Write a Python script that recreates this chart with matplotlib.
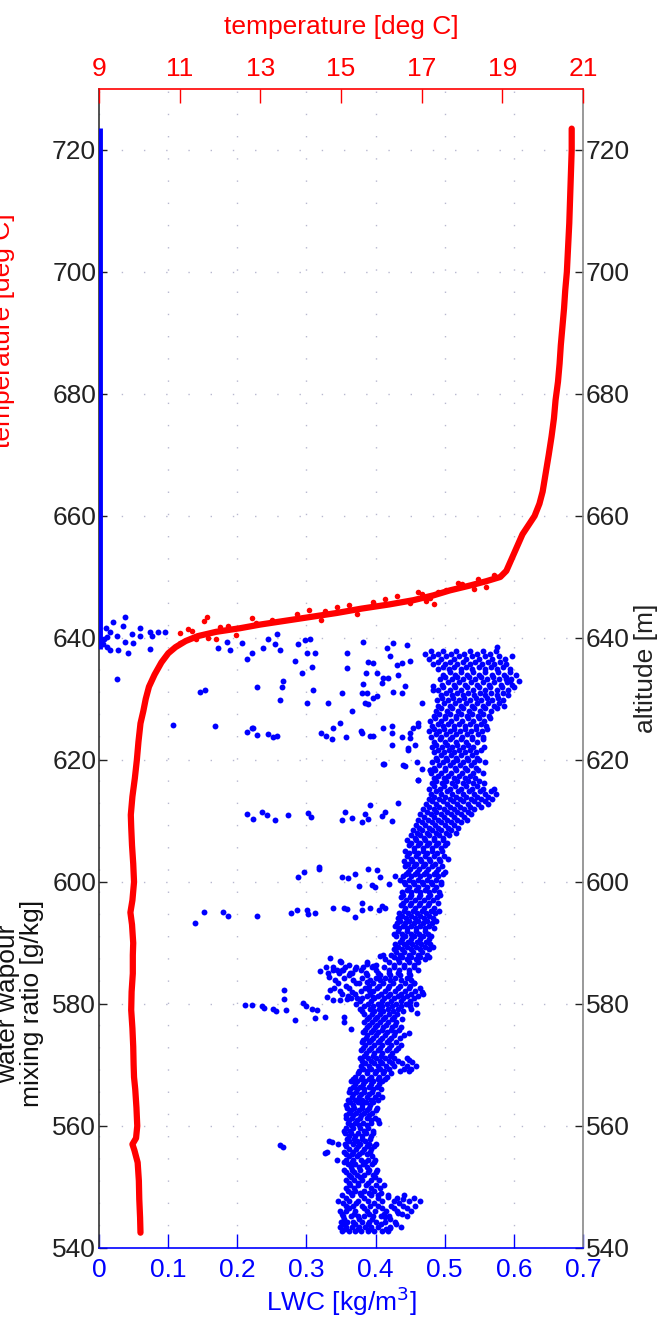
import numpy as np
import matplotlib
matplotlib.use("Agg")
import matplotlib.pyplot as plt

plt.rcParams['font.family'] = ['Liberation Sans', 'DejaVu Sans']

# temperature profile (deg C) against altitude (m)
temp_alt = [542.5, 545, 548, 551, 554, 556, 557, 558, 560, 563, 566, 568, 570, 573, 576, 579,
            582, 585, 588, 590, 593, 595, 597, 600, 603, 606, 609, 611, 614, 617, 620, 623,
            626, 628, 630, 632, 634, 636, 637.5, 638.5, 639.5, 640.3, 641, 641.6, 642.2, 642.8,
            643.4, 644.1, 644.8, 645.5, 646.2, 647.0, 647.8, 648.6, 649.3, 650.0, 651, 652.5,
            654, 655.5, 657, 658.5, 660, 662, 664, 666, 668, 670, 673, 676, 679, 682, 685,
            688, 691, 694, 697, 700, 704, 708, 712, 716, 720, 723.5]
temp = [10.03, 10.02, 10.00, 9.99, 9.96, 9.88, 9.83, 9.92, 9.95, 9.93, 9.90, 9.87, 9.86, 9.85,
        9.83, 9.80, 9.81, 9.84, 9.84, 9.85, 9.82, 9.78, 9.83, 9.87, 9.85, 9.82, 9.80, 9.79,
        9.83, 9.89, 9.94, 9.98, 10.03, 10.10, 10.16, 10.24, 10.38, 10.55, 10.72, 10.90, 11.15,
        11.45, 11.9, 12.5, 13.0, 13.6, 14.2, 14.9, 15.5, 16.2, 16.8, 17.3, 17.7, 18.2, 18.6,
        18.95, 19.1, 19.2, 19.3, 19.4, 19.5, 19.65, 19.8, 19.92, 20.0, 20.05, 20.1, 20.15,
        20.22, 20.28, 20.32, 20.38, 20.42, 20.45, 20.49, 20.53, 20.56, 20.6, 20.63, 20.66,
        20.68, 20.7, 20.72, 20.72]

# noisy temperature samples through the inversion
temp_spread_alt = [643.4, 642.8, 641.5, 639.8, 640.5, 643.2, 642.9, 643.9, 644.5, 645.4, 645.9,
                   646.9, 647.5, 645.8, 646.0, 645.6, 647.9, 649.0, 648.0, 648.4, 644.0, 643.0,
                   641.2, 640.0, 642.0, 646.6, 647.2, 649.6, 650.4, 641.8, 642.4, 644.6, 645.1,
                   646.4, 647.6, 648.9, 640.8, 639.2, 639.9]
temp_spread = [11.68, 11.6, 11.2, 11.9, 12.4, 12.8, 13.3, 13.9, 14.6, 15.2, 15.8, 16.4, 16.9,
               16.7, 17.1, 17.3, 17.6, 17.9, 18.3, 18.6, 15.4, 14.5, 11.3, 11.7, 12.2, 17.2,
               17.0, 18.4, 18.8, 12.0, 12.9, 14.2, 14.9, 16.1, 17.4, 18.0, 11.0, 11.0, 11.4]

# LWC above cloud top (kg/m3)
clear_alt = [638.2, 723.6]
clear_lwc = [0.002, 0.002]

# in-cloud LWC samples, one row of values per altitude
core_alt = [542.7, 543.5, 544.3, 545.2, 546.0, 546.9, 547.7, 548.6, 549.4, 550.3, 551.1, 552.0,
            552.8, 553.7, 554.5, 555.4, 556.2, 557.1, 557.9, 558.8, 559.6, 560.5, 561.3, 562.2,
            563.0, 563.9, 564.7, 565.6, 566.4, 567.3, 568.1, 569.0, 569.8, 570.7, 571.5, 572.4,
            573.2, 574.1, 574.9, 575.8, 576.6, 577.5, 578.3, 579.2, 580.0, 580.9, 581.7, 582.6,
            583.4, 584.3, 585.1, 586.0, 586.8, 587.7, 588.5, 589.4, 590.2, 591.1, 591.9, 592.8,
            593.6, 594.5, 595.3, 596.2, 597.0, 597.9, 598.7, 599.6, 600.4, 601.3, 602.1, 603.0,
            603.8, 604.7, 605.5, 606.4, 607.2, 608.1, 608.9, 609.8, 610.6, 611.5, 612.3, 613.2,
            614.0, 614.9, 615.7, 616.6, 617.4, 618.3, 619.1, 620.0, 620.8, 621.7, 622.5, 623.4,
            624.2, 625.1, 625.9, 626.8, 627.6, 628.5, 629.3, 630.2, 631.0, 631.9, 632.7, 633.6,
            634.4, 635.3, 636.1, 637.0, 637.8]
core_lwc = [
    [0.352, 0.361, 0.370, 0.379, 0.389, 0.398, 0.410, 0.418],
    [0.348, 0.357, 0.366, 0.376, 0.385, 0.394, 0.404, 0.421, 0.437],
    [0.350, 0.359, 0.368, 0.381, 0.391, 0.400, 0.413, 0.428],
    [0.353, 0.364, 0.374, 0.383, 0.396, 0.408, 0.419, 0.446],
    [0.349, 0.358, 0.371, 0.387, 0.399, 0.415, 0.431, 0.452],
    [0.357, 0.368, 0.380, 0.392, 0.404, 0.422, 0.440, 0.457],
    [0.346, 0.362, 0.375, 0.389, 0.410, 0.427, 0.448, 0.465],
    [0.352, 0.366, 0.379, 0.394, 0.418, 0.441],
    [0.360, 0.371, 0.383, 0.398],
    [0.363, 0.374, 0.386, 0.401, 0.412],
    [0.357, 0.369, 0.380, 0.393, 0.405],
    [0.362, 0.373, 0.384, 0.397],
    [0.355, 0.366, 0.377, 0.391, 0.402],
    [0.360, 0.371, 0.382, 0.395],
    [0.358, 0.368, 0.379, 0.389, 0.399],
    [0.357, 0.366, 0.376, 0.387],
    [0.361, 0.372, 0.383, 0.393],
    [0.356, 0.367, 0.378, 0.390, 0.401],
    [0.359, 0.369, 0.380, 0.392],
    [0.356, 0.365, 0.374, 0.386, 0.397],
    [0.358, 0.368, 0.378, 0.389],
    [0.360, 0.371, 0.382, 0.394, 0.405],
    [0.357, 0.366, 0.377, 0.388, 0.399],
    [0.362, 0.372, 0.383, 0.395],
    [0.359, 0.369, 0.380, 0.391, 0.402],
    [0.363, 0.374, 0.386, 0.397],
    [0.366, 0.376, 0.387, 0.399, 0.410],
    [0.362, 0.372, 0.384, 0.395],
    [0.367, 0.378, 0.390, 0.402],
    [0.364, 0.373, 0.385, 0.397, 0.409],
    [0.370, 0.381, 0.393, 0.405, 0.417],
    [0.376, 0.388, 0.400, 0.412, 0.436, 0.448],
    [0.379, 0.391, 0.403, 0.415, 0.427, 0.445, 0.458],
    [0.381, 0.393, 0.406, 0.419, 0.433],
    [0.383, 0.396, 0.408, 0.421],
    [0.379, 0.391, 0.403, 0.416, 0.430],
    [0.385, 0.398, 0.410, 0.423, 0.437],
    [0.382, 0.394, 0.407, 0.420],
    [0.388, 0.400, 0.413, 0.426, 0.441],
    [0.385, 0.397, 0.409, 0.422, 0.434],
    [0.390, 0.402, 0.415, 0.428],
    [0.387, 0.399, 0.411, 0.424, 0.438],
    [0.383, 0.395, 0.407, 0.419, 0.431],
    [0.378, 0.392, 0.405, 0.418, 0.433, 0.452],
    [0.372, 0.389, 0.403, 0.417, 0.430, 0.444, 0.458],
    [0.365, 0.381, 0.398, 0.412, 0.426, 0.440, 0.455],
    [0.352, 0.370, 0.392, 0.408, 0.421, 0.437, 0.451, 0.468],
    [0.340, 0.361, 0.385, 0.402, 0.418, 0.433, 0.449],
    [0.345, 0.372, 0.396, 0.411, 0.425, 0.442, 0.456],
    [0.355, 0.380, 0.400, 0.414, 0.428, 0.445],
    [0.331, 0.347, 0.366, 0.386, 0.404, 0.419, 0.433, 0.448],
    [0.338, 0.372, 0.395, 0.412, 0.427, 0.441, 0.455],
    [0.350, 0.388, 0.420, 0.434, 0.449, 0.462],
    [0.426, 0.438, 0.451, 0.464, 0.477],
    [0.429, 0.441, 0.454, 0.467],
    [0.432, 0.445, 0.458, 0.471, 0.483],
    [0.435, 0.447, 0.460, 0.473],
    [0.430, 0.442, 0.455, 0.468, 0.480],
    [0.433, 0.446, 0.459, 0.472],
    [0.428, 0.440, 0.452, 0.465, 0.478],
    [0.436, 0.449, 0.462, 0.475, 0.488],
    [0.438, 0.451, 0.464, 0.477],
    [0.441, 0.454, 0.467, 0.480, 0.492],
    [0.437, 0.450, 0.463, 0.476],
    [0.444, 0.457, 0.470, 0.483],
    [0.440, 0.452, 0.465, 0.479, 0.493],
    [0.446, 0.459, 0.472, 0.485],
    [0.442, 0.455, 0.468, 0.481, 0.495],
    [0.448, 0.461, 0.474, 0.488],
    [0.444, 0.457, 0.470, 0.484, 0.498],
    [0.450, 0.463, 0.476, 0.490],
    [0.447, 0.459, 0.472, 0.486],
    [0.452, 0.465, 0.478, 0.492, 0.505],
    [0.449, 0.462, 0.475, 0.489],
    [0.455, 0.468, 0.481, 0.495],
    [0.451, 0.464, 0.477, 0.491, 0.504],
    [0.457, 0.470, 0.484, 0.498],
    [0.460, 0.474, 0.488, 0.502, 0.516],
    [0.463, 0.477, 0.491, 0.505, 0.519],
    [0.467, 0.481, 0.495, 0.509, 0.524],
    [0.470, 0.484, 0.499, 0.513, 0.528],
    [0.474, 0.488, 0.503, 0.518, 0.533],
    [0.478, 0.492, 0.507, 0.522, 0.537, 0.552],
    [0.482, 0.497, 0.512, 0.527, 0.542, 0.558],
    [0.485, 0.500, 0.516, 0.531, 0.547, 0.563],
    [0.488, 0.503, 0.519, 0.535, 0.551, 0.567],
    [0.484, 0.499, 0.515, 0.531, 0.547],
    [0.487, 0.502, 0.518, 0.533, 0.549],
    [0.490, 0.505, 0.520, 0.536],
    [0.486, 0.501, 0.517, 0.532, 0.548],
    [0.492, 0.507, 0.522, 0.538],
    [0.489, 0.503, 0.518, 0.534, 0.550],
    [0.494, 0.509, 0.524, 0.540],
    [0.491, 0.506, 0.521, 0.537, 0.553],
    [0.488, 0.503, 0.518, 0.533],
    [0.493, 0.508, 0.524, 0.540, 0.556],
    [0.487, 0.502, 0.517, 0.532, 0.548],
    [0.484, 0.499, 0.514, 0.530, 0.546, 0.561],
    [0.490, 0.505, 0.521, 0.537, 0.553],
    [0.486, 0.501, 0.517, 0.533, 0.549, 0.565],
    [0.492, 0.508, 0.524, 0.540, 0.556],
    [0.495, 0.511, 0.527, 0.543, 0.559, 0.575],
    [0.499, 0.515, 0.531, 0.547, 0.563, 0.579],
    [0.496, 0.512, 0.528, 0.545, 0.561, 0.577],
    [0.502, 0.518, 0.534, 0.551, 0.567, 0.584],
    [0.498, 0.515, 0.532, 0.549, 0.566, 0.583, 0.600],
    [0.505, 0.521, 0.538, 0.555, 0.572, 0.590],
    [0.501, 0.518, 0.535, 0.553, 0.570, 0.588],
    [0.507, 0.524, 0.541, 0.559, 0.577, 0.595],
    [0.497, 0.514, 0.531, 0.549, 0.567, 0.585],
    [0.490, 0.508, 0.526, 0.544, 0.562, 0.580],
    [0.483, 0.502, 0.521, 0.540, 0.559, 0.578],
    [0.480, 0.498, 0.517, 0.536, 0.555, 0.574],
]

# second pass of the cloud profile, samples between the rows above
core2_alt = [543.1, 543.9, 544.7, 545.6, 546.5, 547.3, 548.2, 549.0, 549.9, 550.7, 551.6, 552.4,
             553.3, 554.1, 555.0, 555.8, 556.7, 557.5, 558.4, 559.2, 560.1, 560.9, 561.8, 562.6,
             563.5, 564.3, 565.2, 566.0, 566.9, 567.7, 568.6, 569.4, 570.3, 571.1, 572.0, 572.8,
             573.7, 574.5, 575.4, 576.2, 577.1, 577.9, 578.8, 579.6, 580.5, 581.3, 582.2, 583.0,
             583.9, 584.7, 585.6, 586.4, 587.3, 588.1, 589.0, 589.8, 590.7, 591.5, 592.4, 593.2,
             594.1, 594.9, 595.8, 596.6, 597.5, 598.3, 599.2, 600.0, 600.9, 601.7, 602.6, 603.4,
             604.3, 605.1, 606.0, 606.8, 607.7, 608.5, 609.4, 610.2, 611.1, 611.9, 612.8, 613.6,
             614.5, 615.3, 616.2, 617.0, 617.9, 618.7, 619.6, 620.4, 621.3, 622.1, 623.0, 623.8,
             624.7, 625.5, 626.4, 627.2, 628.1, 628.9, 629.8, 630.6, 631.5, 632.3, 633.2, 634.0,
             634.9, 635.7, 636.6, 637.4]
core2_lwc = [
    [0.356, 0.374, 0.392, 0.415],
    [0.353, 0.371, 0.389, 0.408, 0.430],
    [0.355, 0.376, 0.395, 0.421],
    [0.351, 0.369, 0.391, 0.412, 0.438],
    [0.362, 0.383, 0.409, 0.426, 0.446],
    [0.353, 0.372, 0.398, 0.434],
    [0.358, 0.384, 0.403, 0.455],
    [0.365, 0.377, 0.391, 0.408],
    [0.358, 0.369, 0.394, 0.406],
    [0.361, 0.375, 0.389],
    [0.364, 0.378, 0.399],
    [0.358, 0.369, 0.389, 0.401],
    [0.364, 0.376, 0.388],
    [0.355, 0.366, 0.385, 0.398],
    [0.362, 0.373, 0.395],
    [0.355, 0.368, 0.380, 0.392],
    [0.358, 0.375, 0.388, 0.398],
    [0.362, 0.373, 0.385],
    [0.361, 0.371, 0.381, 0.393],
    [0.355, 0.363, 0.384, 0.396],
    [0.365, 0.376, 0.388],
    [0.362, 0.373, 0.393, 0.404],
    [0.358, 0.368, 0.379, 0.390],
    [0.364, 0.376, 0.388, 0.400],
    [0.357, 0.368, 0.380, 0.392],
    [0.360, 0.370, 0.381, 0.393, 0.404],
    [0.367, 0.379, 0.390, 0.403],
    [0.363, 0.373, 0.384, 0.396, 0.408],
    [0.370, 0.382, 0.394, 0.405],
    [0.368, 0.379, 0.391, 0.403, 0.414],
    [0.375, 0.387, 0.399, 0.411, 0.423],
    [0.382, 0.394, 0.406, 0.420, 0.441, 0.452],
    [0.385, 0.398, 0.410, 0.424, 0.438],
    [0.377, 0.389, 0.401, 0.414, 0.427],
    [0.386, 0.398, 0.410, 0.424],
    [0.382, 0.394, 0.406, 0.419, 0.432],
    [0.380, 0.391, 0.403, 0.416, 0.429],
    [0.386, 0.397, 0.410, 0.423, 0.436],
    [0.382, 0.393, 0.404, 0.416, 0.428],
    [0.387, 0.399, 0.411, 0.424, 0.437],
    [0.384, 0.395, 0.406, 0.418, 0.430],
    [0.390, 0.402, 0.414, 0.426],
    [0.380, 0.398, 0.411, 0.425, 0.440],
    [0.383, 0.396, 0.410, 0.424, 0.437, 0.450],
    [0.378, 0.394, 0.409, 0.422, 0.437, 0.450],
    [0.360, 0.387, 0.404, 0.418, 0.432, 0.446, 0.461],
    [0.348, 0.379, 0.396, 0.413, 0.428, 0.442, 0.457],
    [0.357, 0.390, 0.405, 0.419, 0.435, 0.450],
    [0.342, 0.368, 0.392, 0.407, 0.421, 0.437, 0.452],
    [0.362, 0.388, 0.407, 0.421, 0.436, 0.450],
    [0.352, 0.379, 0.400, 0.419, 0.434, 0.448, 0.461],
    [0.362, 0.400, 0.426, 0.441, 0.456],
    [0.414, 0.432, 0.445, 0.458, 0.471],
    [0.423, 0.435, 0.448, 0.461, 0.474],
    [0.426, 0.438, 0.451, 0.464, 0.477],
    [0.428, 0.441, 0.453, 0.466, 0.479],
    [0.438, 0.451, 0.464, 0.477],
    [0.426, 0.438, 0.451, 0.463, 0.476],
    [0.434, 0.446, 0.458, 0.471, 0.484],
    [0.431, 0.443, 0.456, 0.469, 0.482],
    [0.432, 0.444, 0.457, 0.470, 0.483],
    [0.434, 0.447, 0.460, 0.473, 0.486],
    [0.443, 0.457, 0.470, 0.484],
    [0.439, 0.452, 0.465, 0.478, 0.490],
    [0.437, 0.450, 0.463, 0.476, 0.489],
    [0.438, 0.452, 0.465, 0.478, 0.492],
    [0.449, 0.462, 0.475, 0.488],
    [0.441, 0.454, 0.467, 0.480, 0.494],
    [0.440, 0.451, 0.464, 0.478, 0.491],
    [0.447, 0.460, 0.473, 0.487, 0.501],
    [0.443, 0.456, 0.469, 0.482, 0.496],
    [0.441, 0.453, 0.466, 0.479, 0.493],
    [0.446, 0.459, 0.471, 0.485, 0.499],
    [0.443, 0.456, 0.469, 0.482, 0.496],
    [0.448, 0.461, 0.474, 0.488, 0.501],
    [0.446, 0.458, 0.471, 0.484, 0.497],
    [0.452, 0.465, 0.478, 0.492, 0.506],
    [0.454, 0.467, 0.481, 0.495, 0.509],
    [0.458, 0.472, 0.486, 0.500, 0.514],
    [0.462, 0.476, 0.490, 0.504, 0.518, 0.532],
    [0.465, 0.480, 0.494, 0.509, 0.523, 0.538],
    [0.469, 0.484, 0.499, 0.514, 0.528, 0.543],
    [0.473, 0.488, 0.503, 0.518, 0.533, 0.548, 0.563],
    [0.477, 0.492, 0.507, 0.522, 0.538, 0.553, 0.568],
    [0.480, 0.495, 0.511, 0.527, 0.543, 0.559, 0.574],
    [0.478, 0.493, 0.508, 0.524, 0.540, 0.556, 0.571],
    [0.481, 0.496, 0.511, 0.526, 0.541, 0.557],
    [0.484, 0.499, 0.514, 0.529, 0.544],
    [0.480, 0.494, 0.509, 0.525, 0.541, 0.556],
    [0.485, 0.500, 0.515, 0.530, 0.545],
    [0.482, 0.497, 0.512, 0.527, 0.543, 0.558],
    [0.487, 0.502, 0.517, 0.532, 0.547],
    [0.484, 0.499, 0.514, 0.529, 0.545],
    [0.481, 0.496, 0.511, 0.526, 0.541, 0.557],
    [0.485, 0.500, 0.516, 0.531, 0.547],
    [0.480, 0.495, 0.510, 0.525, 0.540, 0.555],
    [0.477, 0.492, 0.507, 0.522, 0.538, 0.554],
    [0.482, 0.497, 0.513, 0.529, 0.545, 0.560],
    [0.479, 0.494, 0.509, 0.525, 0.541, 0.557],
    [0.484, 0.500, 0.516, 0.532, 0.548, 0.564],
    [0.487, 0.503, 0.519, 0.535, 0.551, 0.567],
    [0.491, 0.507, 0.523, 0.539, 0.555, 0.571, 0.586],
    [0.489, 0.505, 0.521, 0.537, 0.553, 0.569, 0.585],
    [0.494, 0.510, 0.526, 0.543, 0.559, 0.576, 0.592],
    [0.491, 0.507, 0.524, 0.541, 0.558, 0.575, 0.591],
    [0.496, 0.513, 0.530, 0.547, 0.564, 0.581, 0.597],
    [0.493, 0.510, 0.527, 0.544, 0.561, 0.579, 0.596],
    [0.498, 0.515, 0.532, 0.550, 0.568, 0.586, 0.603],
    [0.490, 0.506, 0.523, 0.540, 0.558, 0.576, 0.594],
    [0.483, 0.500, 0.518, 0.536, 0.554, 0.572, 0.589],
    [0.477, 0.495, 0.513, 0.531, 0.550, 0.569, 0.587],
    [0.472, 0.490, 0.509, 0.528, 0.547, 0.566],
]

# scattered LWC samples outside the main cloud core
spread_alt = [643.4, 642.0, 641.7, 641.0, 640.4, 640.7, 640.9, 641.0, 641.0, 640.4, 640.4, 639.3,
              639.2, 638.0, 638.0, 637.5, 638.2, 633.2, 639.8, 640.2, 639.0, 641.6, 642.6, 638.6,
              631.2, 631.4, 625.8, 625.5, 625.3, 638.4, 639.3, 639.1, 638.0, 636.6, 637.5, 631.9,
              638.4, 639.8, 640.7, 638.0, 639.0, 633.0, 631.9, 629.8, 636.3, 639.0, 634.3, 629.3,
              639.6, 639.9, 637.5, 635.2, 631.5, 637.5, 629.4, 625.3, 626.0, 630.9, 637.5, 635.0,
              639.3, 638.3, 639.1, 637.1, 638.8, 636.0, 635.9, 634.3, 634.2, 633.5, 633.5, 633.9,
              635.5, 635.9, 636.2, 632.2, 631.2, 630.9, 632.6, 632.5, 631.0, 630.9, 630.2, 630.5,
              629.3, 629.1, 628.1, 629.4, 631.4, 632.2, 624.5, 623.9, 625.3, 625.6, 624.5, 623.7,
              624.4, 625.2, 625.6, 626.0, 623.6, 622.4, 622.0, 622.4, 621.6, 619.4, 619.1, 619.6,
              618.6, 618.4, 616.7, 633.0, 633.0, 633.2, 637.0, 638.6,
              624.6, 625.2, 624.1, 624.3, 623.8, 624.0, 624.5, 623.9, 623.5, 623.7, 624.7, 624.0,
              611.2, 610.4, 611.5, 610.9, 610.2, 611.0, 611.3, 610.6, 610.1, 611.4, 610.5, 609.9,
              611.1, 610.3, 610.8, 611.5, 610.0, 612.6, 612.9, 619.4, 619.0, 616.7, 618.3,
              600.8, 601.7, 602.4, 600.8, 600.6, 601.3, 599.3, 602.2, 602.0, 599.5, 599.1, 600.8,
              599.6, 600.9, 600.4, 602.2,
              593.2, 595.0, 595.0, 594.5, 594.4, 594.9, 595.4, 595.4, 594.7, 594.9, 595.7, 595.7,
              595.5, 594.2, 596.5, 595.4, 595.7, 595.4, 596.0, 595.7,
              579.8, 579.8, 579.6, 579.4, 579.2, 578.8, 582.3, 580.8, 579.0, 577.3, 580.1, 579.6,
              579.2, 579.0, 577.7, 577.8, 577.8, 577.0, 575.9,
              585.4, 586.0, 587.5, 585.5, 584.4, 587.0, 585.5, 586.0, 585.5, 585.1, 585.8, 582.3,
              581.1, 580.6, 580.7, 580.8, 582.0, 581.0, 583.4, 586.0, 586.5, 586.2, 587.8, 588.0,
              583.6, 582.3, 581.1, 583.4, 582.0, 582.6, 580.3, 578.5, 575.2, 570.8, 571.2, 570.5,
              557.5, 557.3, 557.1, 555.7, 555.5, 554.4, 556.9, 556.6,
              548.7, 548.4, 548.2, 548.0, 545.7, 543.3, 545.1]
spread_lwc = [0.038, 0.035, 0.059, 0.016, 0.026, 0.048, 0.074, 0.085, 0.095, 0.059, 0.077, 0.038,
              0.049, 0.016, 0.028, 0.042, 0.074, 0.026, 0.008, 0.011, 0.006, 0.010, 0.020, 0.012,
              0.146, 0.153, 0.107, 0.168, 0.223, 0.172, 0.185, 0.207, 0.190, 0.214, 0.221, 0.229,
              0.237, 0.245, 0.257, 0.262, 0.255, 0.266, 0.265, 0.262, 0.284, 0.288, 0.294, 0.301,
              0.298, 0.305, 0.301, 0.308, 0.310, 0.313, 0.331, 0.339, 0.349, 0.352, 0.359, 0.359,
              0.382, 0.417, 0.425, 0.421, 0.446, 0.389, 0.397, 0.386, 0.402, 0.411, 0.418, 0.433,
              0.431, 0.438, 0.450, 0.443, 0.425, 0.438, 0.410, 0.382, 0.380, 0.388, 0.397, 0.402,
              0.385, 0.389, 0.366, 0.467, 0.483, 0.483, 0.380, 0.397, 0.411, 0.424, 0.424, 0.438,
              0.450, 0.454, 0.462, 0.462, 0.450, 0.424, 0.447, 0.457, 0.447, 0.411, 0.440, 0.460,
              0.467, 0.479, 0.462, 0.608, 0.595, 0.588, 0.598, 0.576,
              0.214, 0.222, 0.229, 0.244, 0.252, 0.258, 0.321, 0.328, 0.337, 0.357, 0.379, 0.392,
              0.214, 0.223, 0.236, 0.243, 0.255, 0.274, 0.302, 0.307, 0.352, 0.356, 0.366, 0.381,
              0.385, 0.389, 0.410, 0.414, 0.424, 0.392, 0.433, 0.412, 0.443, 0.462, 0.479,
              0.288, 0.297, 0.318, 0.352, 0.360, 0.370, 0.376, 0.389, 0.402, 0.395, 0.399, 0.407,
              0.420, 0.428, 0.436, 0.318,
              0.139, 0.152, 0.180, 0.186, 0.229, 0.278, 0.287, 0.301, 0.303, 0.312, 0.338, 0.354,
              0.359, 0.370, 0.381, 0.381, 0.392, 0.405, 0.409, 0.414,
              0.211, 0.221, 0.236, 0.239, 0.252, 0.256, 0.268, 0.268, 0.271, 0.284, 0.295, 0.300,
              0.308, 0.316, 0.313, 0.327, 0.355, 0.355, 0.364,
              0.320, 0.329, 0.334, 0.338, 0.332, 0.348, 0.344, 0.356, 0.353, 0.363, 0.370, 0.334,
              0.330, 0.339, 0.349, 0.359, 0.366, 0.373, 0.376, 0.382, 0.387, 0.397, 0.407, 0.411,
              0.387, 0.390, 0.397, 0.455, 0.467, 0.465, 0.450, 0.460, 0.449, 0.449, 0.446, 0.453,
              0.332, 0.337, 0.346, 0.330, 0.327, 0.344, 0.262, 0.266,
              0.404, 0.418, 0.431, 0.440, 0.433, 0.421, 0.414]

lwc_ticks = [0, 0.1, 0.2, 0.3, 0.4, 0.5, 0.6, 0.7]
lwc_ticklabels = ['0', '0.1', '0.2', '0.3', '0.4', '0.5', '0.6', '0.7']
temp_ticks = [9, 11, 13, 15, 17, 19, 21]
alt_ticks = [540, 560, 580, 600, 620, 640, 660, 680, 700, 720]

# flatten the row data
pts_alt = []
pts_lwc = []
for rows_alt, rows_lwc in [(core_alt, core_lwc), (core2_alt, core2_lwc)]:
    for a, row in zip(rows_alt, rows_lwc):
        for v in row:
            pts_alt.append(a)
            pts_lwc.append(v)
pts_alt += spread_alt
pts_lwc += spread_lwc

fs = 19
fig = plt.figure(figsize=(6.64, 13.38), dpi=100)
ax = fig.add_axes([0.149, 0.0673, 0.729, 0.8662])

ax.grid(True, linestyle=(0, (1, 15)), color='#b8b8d0', linewidth=1.0)
ax.set_axisbelow(True)
ax.plot(clear_lwc, clear_alt, color='blue', lw=3.5, solid_capstyle='butt', zorder=3)
ax.scatter(pts_lwc, pts_alt, s=18, color='blue', linewidths=0, zorder=3)

ax.set_xlim(0, 0.7)
ax.set_ylim(540, 730)
ax.set_xticks(lwc_ticks)
ax.set_xticklabels(lwc_ticklabels)
ax.set_yticks(alt_ticks)
ax.tick_params(axis='x', direction='in', length=10, width=1, colors='blue',
               labelsize=fs, pad=7)
ax.tick_params(axis='y', direction='in', length=6, width=1, left=True, right=True,
               labelleft=True, labelright=True, labelsize=fs, pad=2, colors='#222222')
ax.set_xlabel('LWC [kg/m$^3$]', color='blue', fontsize=fs, labelpad=2)
ax.yaxis.set_label_position('right')
ax.set_ylabel('altitude [m]', fontsize=fs, labelpad=3, color='#222222')

ax.spines['bottom'].set_color('blue')
ax.spines['left'].set_color('#333333')
ax.spines['right'].set_color('#888888')
ax.spines['top'].set_visible(False)
for sp in ax.spines.values():
    sp.set_linewidth(1.2)

# temperature on the top axis
ax2 = ax.twiny()
ax2.plot(temp, temp_alt, color='red', lw=4.5, solid_capstyle='round', zorder=4)
ax2.scatter(temp_spread, temp_spread_alt, s=16, color='red', linewidths=0, zorder=4)
ax2.set_xlim(9, 21)
ax2.set_xticks(temp_ticks)
ax2.tick_params(axis='x', direction='in', length=10, width=1, colors='red',
                labelsize=fs, pad=6)
ax2.set_xlabel('temperature [deg C]', color='red', fontsize=fs, labelpad=16)
for side in ['left', 'right', 'bottom']:
    ax2.spines[side].set_visible(False)
ax2.spines['top'].set_color('red')
ax2.spines['top'].set_linewidth(1.2)

# left-hand axis titles
fig.text(0.004, 0.753, 'temperature [deg C]', color='red', fontsize=fs,
         rotation=90, ha='center', va='center')
fig.text(0.030, 0.25, 'water wapour\nmixing ratio [g/kg]', color='#111111', fontsize=fs,
         rotation=90, ha='center', va='center', multialignment='center', linespacing=1.0)

fig.savefig('out.png', dpi=100)
